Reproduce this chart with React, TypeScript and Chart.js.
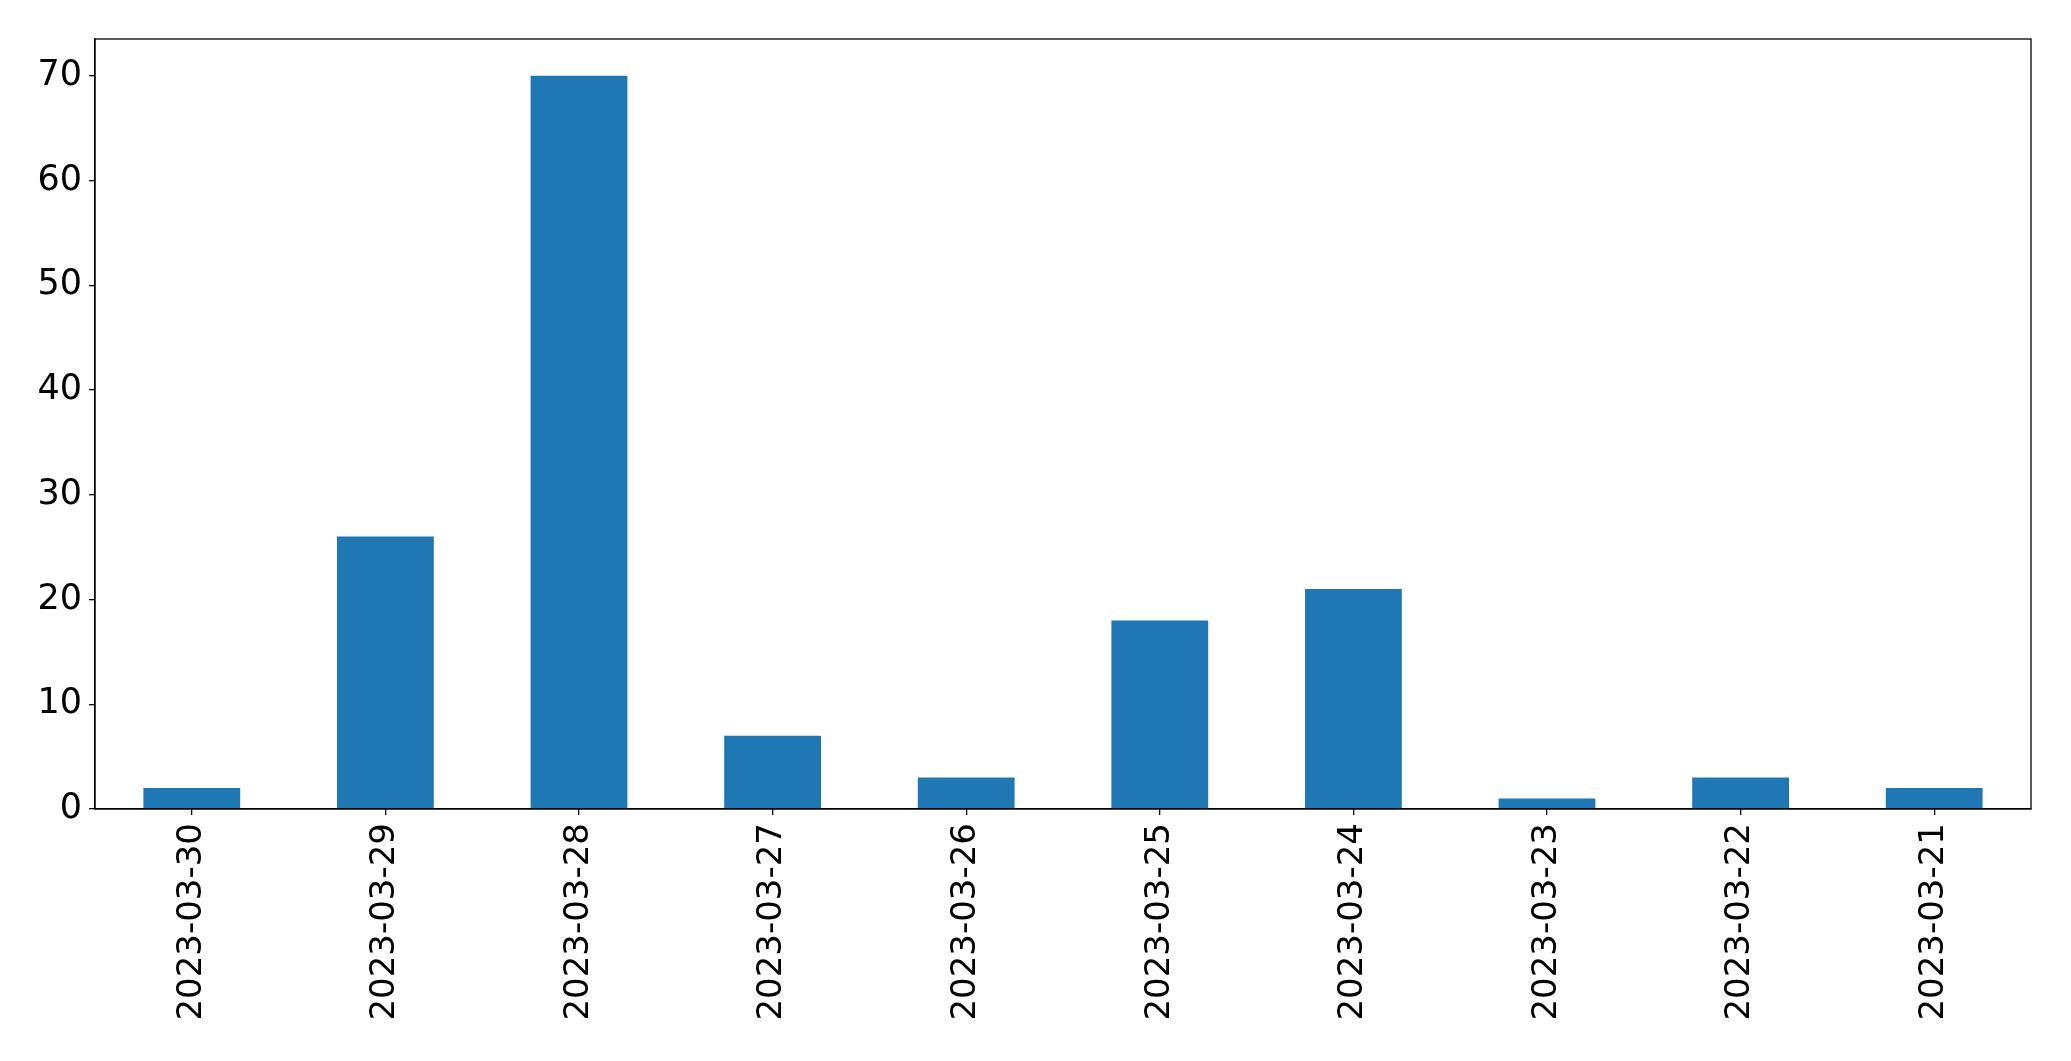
import React, { useEffect, useRef } from "react";
import { Chart, registerables } from "chart.js";

Chart.register(...registerables);

const categories = [
  "2023-03-30",
  "2023-03-29",
  "2023-03-28",
  "2023-03-27",
  "2023-03-26",
  "2023-03-25",
  "2023-03-24",
  "2023-03-23",
  "2023-03-22",
  "2023-03-21",
];
const counts = [2, 26, 70, 7, 3, 18, 21, 1, 3, 2];
const yTicks = [0, 10, 20, 30, 40, 50, 60, 70];
const yMax = 73.5;

const frame = {
  id: "frame",
  afterDraw(chart: any) {
    const { ctx, chartArea } = chart;
    ctx.save();
    ctx.strokeStyle = "#000";
    ctx.lineWidth = 1.3;
    ctx.strokeRect(chartArea.left, chartArea.top, chartArea.right - chartArea.left, chartArea.bottom - chartArea.top);
    ctx.restore();
  },
};

export default function App() {
  const ref = useRef<HTMLCanvasElement>(null);
  useEffect(() => {
    if (!ref.current) return;
    const chart = new Chart(ref.current, {
      type: "bar",
      data: {
        labels: categories,
        datasets: [
          {
            data: counts,
            backgroundColor: "#1f77b4",
            borderWidth: 0,
            categoryPercentage: 1,
            barPercentage: 0.5,
          },
        ],
      },
      options: {
        animation: false,
        responsive: false,
        devicePixelRatio: 1,
        layout: { padding: { left: 0, right: 40, top: 39, bottom: 0 } },
        plugins: { legend: { display: false }, tooltip: { enabled: false } },
        scales: {
          x: {
            offset: true,
            grid: { display: true, offset: false, drawOnChartArea: false, drawTicks: true, tickLength: 6, color: "#000", lineWidth: 1.3 },
            border: { display: true, color: "#000", width: 1.3 },
            ticks: {
              color: "#000",
              font: { family: "DejaVu Sans", size: 34 },
              minRotation: 90,
              maxRotation: 90,
              padding: 8,
              autoSkip: false,
            },
            afterFit(scale: any) {
              scale.height = 252;
            },
          },
          y: {
            min: 0,
            max: yMax,
            grid: { display: true, drawOnChartArea: false, drawTicks: true, tickLength: 6, color: "#000", lineWidth: 1.3 },
            border: { display: true, color: "#000", width: 1.3 },
            ticks: {
              color: "#000",
              font: { family: "DejaVu Sans", size: 35 },
              padding: 7,
            },
            afterBuildTicks(scale: any) {
              scale.ticks = yTicks.map((v) => ({ value: v }));
            },
            afterFit(scale: any) {
              scale.width = 95;
            },
          },
        },
      },
      plugins: [frame],
    });
    return () => chart.destroy();
  }, []);
  return (
    <div style={{ position: "fixed", left: 0, top: 0, width: 2071, height: 1061, background: "#fff" }}>
      <canvas ref={ref} width={2071} height={1061} />
    </div>
  );
}
